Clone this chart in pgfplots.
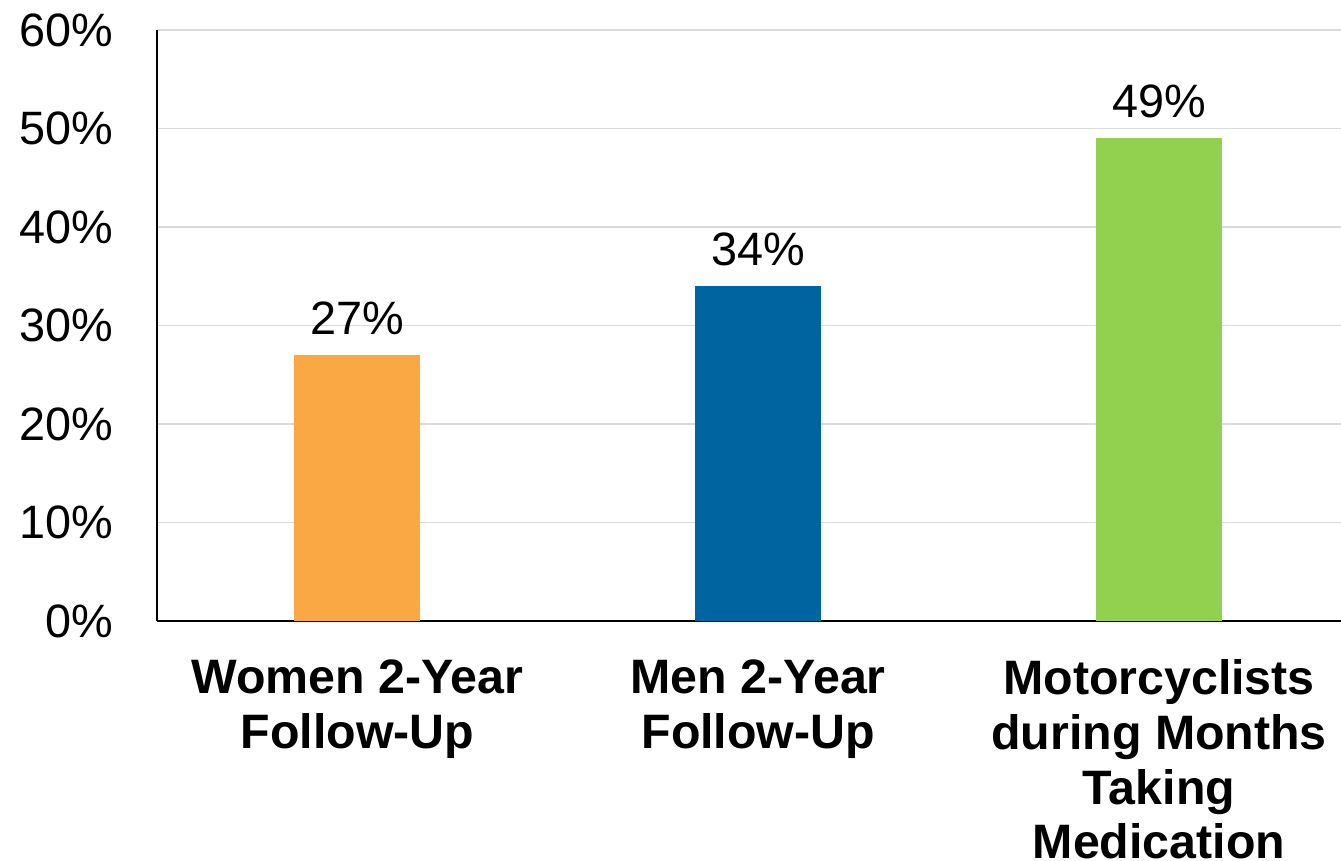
\documentclass[border=0pt]{standalone}
\usepackage{pgfplots}
\pgfplotsset{compat=1.18}
\usepackage{fontspec}
\setmainfont{Liberation Sans}
\definecolor{cOrange}{HTML}{F9A843}
\definecolor{cBlue}{HTML}{0064A1}
\definecolor{cGreen}{HTML}{92D050}
\definecolor{cGrid}{HTML}{D9D9D9}
\begin{document}
\begin{tikzpicture}[x=1bp,y=1bp]
\path[use as bounding box] (0,0) rectangle (1341,860);
\begin{axis}[
  at={(157bp,239bp)}, anchor=south west,
  scale only axis,
  width=1184bp, height=591bp,
  ybar, bar width=126bp, bar shift=0pt,
  xmin=-0.5, xmax=2.454,
  ymin=0, ymax=60,
  axis x line*=bottom, axis y line*=left,
  axis line style={black, line width=1.5bp},
  x axis line style={-}, y axis line style={-},
  ymajorgrids, grid style={cGrid, line width=1.5bp},
  major tick length=0pt,
  /pgf/number format/assume math mode=true,
  ytick={0,10,20,30,40,50,60},
  yticklabels={0\%,10\%,20\%,30\%,40\%,50\%,60\%},
  yticklabel style={font=\fontsize{47}{55}\selectfont, xshift=-40bp},
  xtick={0,1,2},
  xticklabels={Women 2-Year\\Follow-Up, Men 2-Year\\Follow-Up, Motorcyclists\\during Months\\Taking\\Medication},
  xticklabel style={font=\fontsize{48.5}{55}\selectfont\bfseries, align=center, anchor=north, yshift=-35bp},
  point meta=y,
  nodes near coords={\pgfmathprintnumber{\pgfplotspointmeta}\%},
  nodes near coords style={font=\fontsize{47}{55}\selectfont, anchor=south, yshift=17bp},
  clip=false,
]
\addplot[fill=cOrange, draw=none] coordinates {(0,27)};
\addplot[fill=cBlue, draw=none] coordinates {(1,34)};
\addplot[fill=cGreen, draw=none] coordinates {(2,49)};
\end{axis}
\end{tikzpicture}
\end{document}
